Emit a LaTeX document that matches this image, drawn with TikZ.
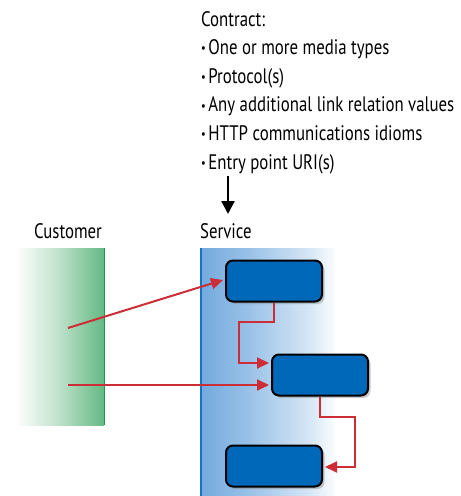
\documentclass[tikz,border=0pt]{standalone}
\usepackage{fontspec}
\setmainfont{PT Sans}[FakeStretch=0.8]
\usetikzlibrary{arrows.meta,shadows,calc}
\definecolor{redline}{RGB}{205,45,55}
\definecolor{boxblue}{RGB}{0,104,185}
\definecolor{panelblue}{RGB}{115,170,222}
\definecolor{edgeblue}{RGB}{25,115,195}
\definecolor{panelgreen}{RGB}{100,185,130}
\definecolor{edgegreen}{RGB}{30,150,75}
\pgfdeclarehorizontalshading{greenfade}{100bp}{color(0bp)=(white); color(25bp)=(white); color(28bp)=(white); color(50bp)=(panelgreen!40); color(75bp)=(panelgreen); color(100bp)=(panelgreen)}
\pgfdeclarehorizontalshading{bluefade}{100bp}{color(0bp)=(panelblue); color(25bp)=(panelblue); color(40bp)=(panelblue!75); color(62bp)=(panelblue!30); color(72bp)=(white); color(100bp)=(white)}
\newcommand{\bul}{\raisebox{1.8pt}{\fontsize{13}{13}\selectfont\textbullet}\hspace{2.5pt}}
\begin{document}
\begin{tikzpicture}[x=1pt,y=-1pt,
 txt/.style={anchor=base west, inner sep=0pt, font=\fontsize{21}{24}\selectfont},
 lbl/.style={inner sep=0pt, font=\fontsize{21}{24}\selectfont},
 stepbox/.style={draw=black, line width=2pt, fill=boxblue, rounded corners=7pt, minimum width=96pt, minimum height=41pt, inner sep=0pt, drop shadow={opacity=0.4, shadow xshift=2.5pt, shadow yshift=-2.5pt}},
 flow/.style={draw=redline, line width=2pt, -{Triangle[length=12pt,width=11pt]}},
 panel/.style={inner sep=0pt, anchor=north west}
]
\useasboundingbox (0,0) rectangle (461,496);
% contract text
\node[txt] (c0) at (201,26) {Contract:};
\node[txt] (c1) at (201,54.6) {\bul One or more media types};
\node[txt] (c2) at (201,83.2) {\bul Protocol(s)};
\node[txt] (c3) at (201,111.8) {\bul Any additional link relation values};
\node[txt] (c4) at (201,140.4) {\bul HTTP communications idioms};
\node[txt] (c5) at (201,169) {\bul Entry point URI(s)};
\coordinate (a0) at (228,176);
\coordinate (a1) at (228,214);
\draw[line width=2.2pt, -{Triangle[length=13pt,width=13pt]}] (a0) -- (a1);
% labels
\node[lbl, anchor=base] (cl) at (68,238) {Customer};
\node[lbl, anchor=base west] (sl) at (200,238) {Service};
% panels
\node[panel, minimum width=94pt, minimum height=177pt, shading=greenfade] (cust) at (10,248) {};
\draw[edgegreen, line width=1.8pt] (cust.north east) -- (cust.south east);
\node[panel, minimum width=145pt, minimum height=248pt, shading=bluefade] (serv) at (201,248) {};
\draw[edgeblue, line width=2pt] (serv.north west) -- (serv.south west);
% boxes
\node[stepbox] (b1) at (274,281) {};
\node[stepbox] (b2) at (320,375) {};
\node[stepbox] (b3) at (274,466) {};
% flows
\coordinate (s1) at (68,328);
\coordinate (s2) at (68,385);
\coordinate (k1) at (239,322);
\coordinate (k2) at (355,417);
\draw[flow] (s1) -- ($(b1.west)+(-2,-1)$);
\draw[flow] (s2) -- ($(s2 -| b2.west)+(-2,0)$);
\draw[flow] (b1.south) |- (k1) |- ($(b2.west)+(-2,-12)$);
\draw[flow] (b2.south) |- (k2) |- ($(b3.east)+(2,1)$);
\end{tikzpicture}
\end{document}
